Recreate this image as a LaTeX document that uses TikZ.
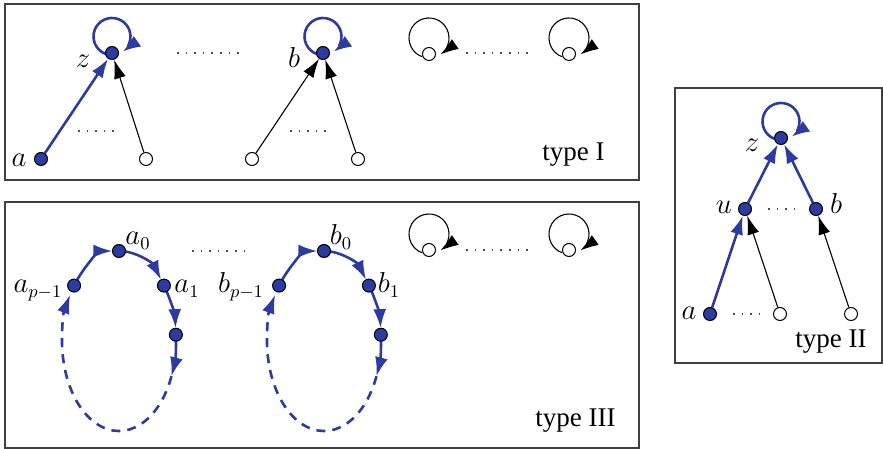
\documentclass[tikz,border=0pt]{standalone}
\usepackage{fontspec}
\setmainfont{Liberation Serif}
\usetikzlibrary{arrows.meta,calc,backgrounds}
\definecolor{cb}{RGB}{45,58,160}
\newcommand\myloop[4]{\draw[#2] ($(#1)+(0,#3)+(250:#4)$) arc[start angle=250,end angle=-55,radius=#4];}
\begin{document}
\begin{tikzpicture}[x=0.5pt,y=0.5pt,
  font=\fontsize{13.5}{16}\selectfont,
  bnode/.style={circle,draw=black,line width=0.5pt,fill=cb,minimum size=6.5pt,inner sep=0pt},
  wnode/.style={circle,draw=black,line width=0.5pt,fill=white,minimum size=6.5pt,inner sep=0pt},
  bedge/.style={draw=cb,line width=1.3pt,-{Latex[length=9.5pt,width=6.5pt]}},
  kedge/.style={draw=black,line width=0.55pt,-{Latex[length=9.5pt,width=6pt]}},
  bloop/.style={draw=cb,line width=1.3pt,-{Latex[length=9pt,width=6.5pt]}},
  kloop/.style={draw=black,line width=0.55pt,-{Latex[length=9pt,width=6pt]}},
  cyc/.style={draw=cb,line width=1.3pt,-{Latex[length=9.5pt,width=6.5pt]}},
  cycd/.style={draw=cb,line width=1.3pt,dash pattern=on 4.5pt off 3.5pt,-{Latex[length=9.5pt,width=6.5pt]}},
  dots/.style={draw=black!70,line width=0.8pt,dash pattern=on 0.8pt off 3.5pt},
  frame/.style={draw=black!75,line width=0.7pt},
  lab/.style={anchor=base,inner sep=0pt},
]
\useasboundingbox (0,0) rectangle (883,449);
% frames
\draw[frame] (5,269) rectangle (639,445);
\draw[frame] (5,1) rectangle (639,247);
\draw[frame] (675,86) rectangle (882,361);

% ---------- type I ----------
\node[bnode] (z1) at (112,396) {};
\node[bnode] (a1n) at (41,290) {};
\node[wnode] (w1) at (146,290) {};
\node[wnode] (w2) at (252,290) {};
\node[bnode] (b1n) at (323,396) {};
\node[wnode] (w3) at (358,290) {};
\node[wnode] (l1) at (429,395) {};
\node[wnode] (l2) at (569,395) {};
\node[lab] (lz1) at (83,381) {$z$};
\node[lab] (lb1) at (294,381) {$b$};
\node[lab] (la1) at (19,282) {$a$};
\node[lab] (t1) at (573.5,288) {type I};
\draw[dots] (177,396) -- (245,396);
\draw[dots] (78,318) -- (118,318);
\draw[dots] (290,318) -- (330,318);
\draw[dots] (466,396) -- (533,396);
\begin{scope}[on background layer]
  \draw[bedge] (a1n) -- (z1);
  \draw[kedge] (w1) -- (z1);
  \draw[kedge] (w2) -- (b1n);
  \draw[kedge] (w3) -- (b1n);
  \myloop{z1}{bloop}{16.5}{18.5}
  \myloop{b1n}{bloop}{16.5}{18.5}
  \myloop{l1}{kloop}{16}{20}
  \myloop{l2}{kloop}{16}{20}
\end{scope}

% ---------- type III ----------
\begin{scope}[shift={(119,108)}]
  \node[bnode] (a0) at (90:57 and 90) {};
  \node[bnode] (ap) at (142:57 and 90) {};
  \node[bnode] (aa) at (38:57 and 90) {};
  \node[bnode] (a2) at (4:57 and 90) {};
  \coordinate (ae) at (-23:57 and 90);
  \begin{scope}[on background layer]
    \draw[cyc,shorten >=3.3pt] (ap.center) arc[start angle=142,end angle=90,x radius=57,y radius=90];
    \draw[cyc,shorten >=3.3pt] (a0.center) arc[start angle=90,end angle=38,x radius=57,y radius=90];
    \draw[cyc,shorten >=3.3pt] (aa.center) arc[start angle=38,end angle=4,x radius=57,y radius=90];
    \draw[cyc] (a2.center) arc[start angle=4,end angle=-23,x radius=57,y radius=90];
    \draw[cycd] (ae) arc[start angle=-23,end angle=-211,x radius=57,y radius=90];
  \end{scope}
\end{scope}
\begin{scope}[shift={(324,108)}]
  \node[bnode] (b0) at (90:57 and 90) {};
  \node[bnode] (bp) at (142:57 and 90) {};
  \node[bnode] (bb) at (38:57 and 90) {};
  \node[bnode] (b2) at (4:57 and 90) {};
  \coordinate (be) at (-23:57 and 90);
  \begin{scope}[on background layer]
    \draw[cyc,shorten >=3.3pt] (bp.center) arc[start angle=142,end angle=90,x radius=57,y radius=90];
    \draw[cyc,shorten >=3.3pt] (b0.center) arc[start angle=90,end angle=38,x radius=57,y radius=90];
    \draw[cyc,shorten >=3.3pt] (bb.center) arc[start angle=38,end angle=4,x radius=57,y radius=90];
    \draw[cyc] (b2.center) arc[start angle=4,end angle=-23,x radius=57,y radius=90];
    \draw[cycd] (be) arc[start angle=-23,end angle=-211,x radius=57,y radius=90];
  \end{scope}
\end{scope}
\node[wnode] (l3) at (429,199) {};
\node[wnode] (l4) at (569,199) {};
\begin{scope}[on background layer]
  \myloop{l3}{kloop}{16}{20}
  \myloop{l4}{kloop}{16}{20}
\end{scope}
\node[lab] (la0) at (138,204) {$a_0$};
\node[lab] (lap) at (38,156) {$a_{p-1}$};
\node[lab] (laa) at (187,156) {$a_1$};
\node[lab] (lb0) at (341,204) {$b_0$};
\node[lab] (lbp) at (241,156) {$b_{p-1}$};
\node[lab] (lbb) at (389,156) {$b_1$};
\node[lab] (t3) at (575.5,22) {type III};
\draw[dots] (192,198) -- (252,198);
\draw[dots] (466,199) -- (533,199);

% ---------- type II ----------
\node[bnode] (z2) at (781,311) {};
\node[bnode] (u2) at (745,240) {};
\node[bnode] (b2n) at (816,240) {};
\node[bnode] (a2n) at (710,135) {};
\node[wnode] (w4) at (780,135) {};
\node[wnode] (w5) at (851,135) {};
\node[lab] (lz2) at (752,297) {$z$};
\node[lab] (lu2) at (724,235) {$u$};
\node[lab] (lb2) at (836,235) {$b$};
\node[lab] (la2) at (689,129) {$a$};
\node[lab] (t2) at (831,101) {type II};
\draw[dots] (768,240) -- (800,240);
\draw[dots] (733,135) -- (765,135);
\begin{scope}[on background layer]
  \draw[bedge] (a2n) -- (u2);
  \draw[bedge] (u2) -- (z2);
  \draw[bedge] (b2n) -- (z2);
  \draw[kedge] (w4) -- (u2);
  \draw[kedge] (w5) -- (b2n);
  \myloop{z2}{bloop}{16.5}{18.5}
\end{scope}
\end{tikzpicture}
\end{document}
